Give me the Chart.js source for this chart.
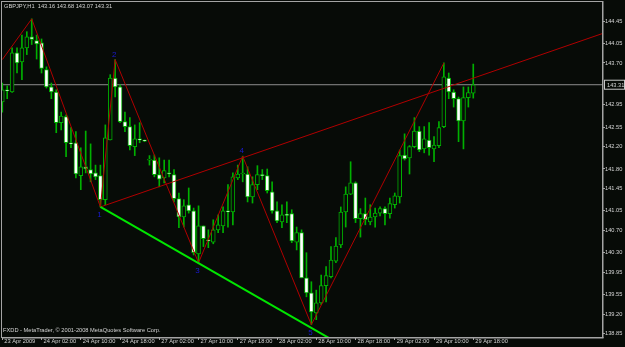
<!DOCTYPE html>
<html>
<head>
<meta charset="utf-8">
<style>
  html, body { margin: 0; padding: 0; background: #070b07; overflow: hidden; }
</style>
</head>
<body>
<canvas id="chart" width="625" height="347"></canvas>
<script src="https://cdn.jsdelivr.net/npm/chart.js@4.4.0/dist/chart.umd.min.js"></script>
<script>
// GBPJPY H1 bars, 23 Apr 18:00 .. 29 Apr 18:00 (bar index 0..96)
const OPEN = [
  143.00,143.21,143.18,143.88,143.72,143.97,144.17,144.10,144.06,143.58,
  143.27,143.18,142.63,142.74,142.27,142.27,141.68,141.84,141.79,141.73,
  141.68,141.25,142.32,143.43,143.27,142.65,142.56,142.20,142.34,142.31,
  141.96,141.96,141.70,141.64,141.73,141.70,141.27,140.94,141.16,141.05,
  140.28,140.78,140.53,140.49,140.71,140.78,141.05,141.03,141.64,141.71,
  141.71,141.30,141.52,141.69,141.68,141.39,141.05,140.85,140.98,141.00,
  140.49,140.66,139.85,139.58,139.22,139.40,139.71,139.87,140.15,140.44,
  141.03,141.35,141.55,140.91,141.00,140.85,140.94,141.01,141.09,141.00,
  141.16,141.30,142.05,142.00,142.20,142.48,142.16,142.32,142.16,142.22,
  142.56,143.43,143.18,143.06,142.66,143.08,143.16
];
const HIGH = [
  143.34,143.29,143.97,143.97,144.20,144.26,144.49,144.20,144.13,143.63,
  143.34,143.22,142.82,142.77,142.54,142.47,142.18,142.48,142.25,141.87,
  141.87,142.59,143.49,143.76,143.31,142.82,142.72,142.59,142.63,142.32,
  142.04,142.05,142.00,141.96,141.96,141.79,141.37,141.25,141.46,141.10,
  141.14,140.78,140.71,140.89,140.98,141.12,141.52,141.73,141.87,142.03,
  141.84,141.66,141.86,141.79,141.80,141.57,141.21,141.16,141.21,141.07,
  140.76,140.71,140.30,139.78,139.63,139.90,140.05,140.41,140.57,141.12,
  141.48,141.93,141.57,141.09,141.28,141.16,141.10,141.12,141.12,141.28,
  141.37,142.14,142.43,142.22,142.72,142.56,142.56,142.63,142.38,142.65,
  143.70,143.52,143.22,143.09,143.27,143.27,143.68
];
const LOW = [
  142.82,143.06,143.17,143.52,143.40,143.85,144.03,143.77,143.52,143.25,
  143.06,142.45,142.50,142.02,142.18,141.64,141.43,141.73,141.57,141.61,
  141.12,141.16,142.32,143.09,142.63,142.47,142.14,142.04,142.27,142.29,
  141.87,141.66,141.48,141.55,141.66,141.21,140.75,140.76,141.01,140.26,
  140.12,140.41,140.39,140.46,140.66,140.66,140.76,140.80,141.61,141.57,
  141.21,141.19,141.43,141.61,141.37,141.01,140.84,140.75,140.84,140.48,
  140.35,139.85,139.51,139.01,139.10,139.37,139.42,139.85,140.12,140.39,
  140.76,141.34,140.84,140.58,140.80,140.80,140.76,140.96,140.80,140.92,
  141.10,141.19,141.96,141.71,142.18,142.11,142.09,142.05,141.93,142.18,
  142.54,143.06,142.91,142.29,142.16,142.91,143.07
];
const CLOSE = [
  143.22,143.20,143.88,143.70,143.97,144.17,144.12,144.04,143.60,143.27,
  143.18,142.63,142.75,142.27,142.25,141.71,141.84,141.80,141.71,141.66,
  141.25,142.36,143.43,143.27,142.65,142.56,142.22,142.34,142.32,142.30,
  141.96,141.70,141.62,141.77,141.71,141.27,140.94,141.14,141.05,140.30,
  140.78,140.55,140.51,140.71,140.80,141.05,141.03,141.66,141.71,141.72,
  141.30,141.52,141.70,141.68,141.41,141.05,140.87,140.98,140.97,140.51,
  140.66,139.85,139.58,139.24,139.40,139.71,139.89,140.17,140.42,141.03,
  141.35,141.55,140.91,141.00,140.89,140.94,141.01,141.09,141.00,141.18,
  141.32,142.04,141.98,142.20,142.48,142.14,142.34,142.18,142.23,142.54,
  143.45,143.18,143.06,142.66,143.08,143.17,143.31
];

// time axis labels (every 8 bars)
const X_TICK_IDX = [0, 8, 16, 24, 32, 40, 48, 56, 64, 72, 80, 88, 96];
const X_TICK_LABELS = ['23 Apr 2009', '24 Apr 02:00', '24 Apr 10:00', '24 Apr 18:00',
  '27 Apr 02:00', '27 Apr 10:00', '27 Apr 18:00', '28 Apr 02:00', '28 Apr 10:00',
  '28 Apr 18:00', '29 Apr 02:00', '29 Apr 10:00', '29 Apr 18:00'];

// price axis labels
const Y_TICKS = [144.45, 144.05, 143.70, 142.95, 142.55, 142.20, 141.80, 141.45,
  141.05, 140.70, 140.30, 139.95, 139.55, 139.20, 138.85];
const BID = 143.31;

// zigzag pivots and the two trend lines
const ZZ_X = [0, 6, 20, 23, 40, 49, 63, 90];
const ZZ_Y = [143.76, 144.49, 141.12, 143.76, 140.12, 142.03, 139.01, 143.70];
const TREND_X = [20, 130];
const TREND_Y = [141.12, 144.46];
const SUPPORT_X = [20, 70];
const SUPPORT_Y = [141.12, 138.60];

// numbered pivots
const PIVOT_IDX = [20, 23, 40, 49, 63];
const PIVOT_PRICE = [141.12, 143.76, 140.12, 142.03, 139.01];
const PIVOT_TEXT = ['1', '2', '3', '4', '5'];

const X_MIN = -0.06, X_MAX = 122.24;
const Y_MIN = 138.79, Y_MAX = 144.81;

const BG = '#070b07';
const CANDLE = '#00b000';
const TEXT = '#d4d4d4';
const FRAME = '#a4a4a4';
const FONT = "'Liberation Sans', Arial, sans-serif";

const idx = OPEN.map((_, i) => i);
const toPts = (xs, ys) => xs.map((x, i) => ({ x: x, y: ys[i] }));

const frame = {
  id: 'mtFrame',
  beforeDraw(chart) {
    const c = chart.ctx;
    c.save();
    c.fillStyle = BG;
    c.fillRect(0, 0, chart.width, chart.height);
    c.restore();
  },
  afterDatasetsDraw(chart) {
    const c = chart.ctx;
    const a = chart.chartArea;
    const xs = chart.scales.x, ys = chart.scales.y;
    c.save();

    // pivot numbers
    c.fillStyle = '#1a1ad0';
    c.font = '8px ' + FONT;
    c.textAlign = 'center';
    c.textBaseline = 'middle';
    PIVOT_IDX.forEach((p, k) => {
      const px = xs.getPixelForValue(p);
      const isLow = Math.abs(PIVOT_PRICE[k] - LOW[p]) < Math.abs(PIVOT_PRICE[k] - HIGH[p]);
      const py = ys.getPixelForValue(PIVOT_PRICE[k]) + (isLow ? 8 : -5);
      c.fillText(PIVOT_TEXT[k], px - 1, py);
    });

    // header and footer texts
    const last = OPEN.length - 1;
    c.fillStyle = TEXT;
    c.font = '5.7px ' + FONT;
    c.textAlign = 'left';
    c.fillText('GBPJPY,H1  ' + [OPEN[last], HIGH[last], LOW[last], CLOSE[last]].map(v => v.toFixed(2)).join(' '), 4, 6.5);
    c.fillText('FXDD - MetaTrader, \u00A9 2001-2008 MetaQuotes Software Corp.', 3, 330.5);

    // frame
    c.strokeStyle = FRAME;
    c.lineWidth = 1;
    c.strokeRect(a.left - 0.5, a.top + 0.5, a.right - a.left + 1, a.bottom - a.top);
    c.fillStyle = FRAME;
    c.fillRect(a.right, a.top, 1.5, a.bottom - a.top + 1);
    c.fillRect(a.left, a.bottom, a.right - a.left + 1.5, 1.5);

    // bid price label
    const by = ys.getPixelForValue(BID);
    c.fillStyle = BG;
    c.fillRect(a.right + 2, by - 5, 21, 10);
    c.strokeStyle = '#c8c8c8';
    c.strokeRect(a.right + 2.5, by - 4.5, 20, 9);
    c.fillStyle = TEXT;
    c.font = '5.7px ' + FONT;
    c.fillText(BID.toFixed(2), a.right + 5, by + 0.5);
    c.restore();
  }
};

new Chart(document.getElementById('chart'), {
  type: 'bar',
  data: {
    datasets: [
      {
        type: 'line', label: 'Bid',
        data: toPts([X_MIN, X_MAX], [BID, BID]),
        borderColor: '#8e8e8e', borderWidth: 1, pointRadius: 0, order: 6
      },
      {
        label: 'Range',
        data: idx.map(i => ({ x: i, y: [LOW[i], HIGH[i]] })),
        backgroundColor: CANDLE, borderWidth: 0,
        barThickness: 1, minBarLength: 1, grouped: false, order: 5
      },
      {
        label: 'Body',
        data: idx.map(i => ({ x: i, y: [OPEN[i], CLOSE[i]] })),
        backgroundColor: idx.map(i => CLOSE[i] >= OPEN[i] ? BG : '#ffffff'),
        borderColor: CANDLE, borderWidth: 1, borderSkipped: false,
        barThickness: 4, minBarLength: 1, grouped: false, order: 4
      },
      {
        type: 'line', label: 'ZigZag',
        data: toPts(ZZ_X, ZZ_Y),
        borderColor: '#b00000', borderWidth: 1, pointRadius: 0, tension: 0, order: 3
      },
      {
        type: 'line', label: 'Trend',
        data: toPts(TREND_X, TREND_Y),
        borderColor: '#b00000', borderWidth: 1, pointRadius: 0, order: 2
      },
      {
        type: 'line', label: 'Support',
        data: toPts(SUPPORT_X, SUPPORT_Y),
        borderColor: '#00e600', borderWidth: 2, pointRadius: 0, order: 1
      }
    ]
  },
  options: {
    responsive: false,
    animation: false,
    events: [],
    layout: { padding: { left: 2, top: 1, right: 0, bottom: 0 } },
    plugins: { legend: { display: false }, tooltip: { enabled: false } },
    scales: {
      x: {
        type: 'linear', position: 'bottom', min: X_MIN, max: X_MAX, offset: false,
        afterBuildTicks: s => { s.ticks = X_TICK_IDX.map(v => ({ value: v })); },
        afterFit: s => { s.height = 10; s.paddingLeft = 0; s.paddingRight = 0; },
        grid: { offset: false, drawOnChartArea: false, drawTicks: true, tickLength: 3, tickColor: FRAME },
        border: { display: false },
        ticks: {
          autoSkip: false, maxRotation: 0, minRotation: 0, align: 'start',
          labelOffset: 2, padding: -2, color: TEXT,
          font: { family: FONT, size: 5.7 },
          callback: (v, i) => X_TICK_LABELS[i]
        }
      },
      y: {
        type: 'linear', position: 'right', min: Y_MIN, max: Y_MAX,
        afterBuildTicks: s => { s.ticks = Y_TICKS.map(v => ({ value: v })); },
        afterFit: s => { s.width = 23; s.paddingTop = 0; s.paddingBottom = 0; },
        grid: { drawOnChartArea: false, drawTicks: true, tickLength: 3, tickColor: FRAME },
        border: { display: false },
        ticks: {
          autoSkip: false, padding: 0, color: TEXT, crossAlign: 'near',
          font: { family: FONT, size: 5.7 },
          callback: v => v.toFixed(2)
        }
      }
    }
  },
  plugins: [frame]
});
</script>
</body>
</html>
